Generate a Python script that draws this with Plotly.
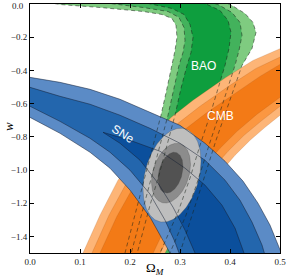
import numpy as np
import plotly.graph_objects as go

# ---------------- data (Omega_M, w) ----------------
# SNe contour boundaries (3 = outer 99.7%, 2 = 95%, 1 = 68%)
sne_u3_om = [-0.01, 0.0, 0.06, 0.12, 0.18, 0.24, 0.30, 0.35, 0.39, 0.426, 0.456, 0.48, 0.50, 0.51]
sne_u3_w = [-0.436, -0.442, -0.472, -0.514, -0.574, -0.652, -0.731, -0.839, -0.947, -1.067, -1.200, -1.332, -1.470, -1.554]
sne_u2_om = [-0.01, 0.0, 0.06, 0.12, 0.18, 0.24, 0.30, 0.35, 0.39, 0.42, 0.444, 0.464, 0.474]
sne_u2_w = [-0.496, -0.502, -0.556, -0.604, -0.670, -0.749, -0.839, -0.941, -1.061, -1.182, -1.314, -1.452, -1.554]
sne_u1_om = [0.146, 0.20, 0.26, 0.31, 0.35, 0.384, 0.41, 0.428, 0.432]
sne_u1_w = [-0.773, -0.821, -0.887, -0.989, -1.091, -1.212, -1.350, -1.500, -1.554]
sne_l1_om = [0.146, 0.18, 0.22, 0.256, 0.286, 0.31, 0.33, 0.334]
sne_l1_w = [-0.773, -0.839, -0.941, -1.079, -1.224, -1.362, -1.500, -1.554]
sne_l2_om = [-0.01, 0.0, 0.06, 0.12, 0.16, 0.20, 0.24, 0.27, 0.29, 0.298, 0.302]
sne_l2_w = [-0.604, -0.616, -0.707, -0.809, -0.893, -1.001, -1.145, -1.302, -1.434, -1.500, -1.554]
sne_l3_om = [-0.01, 0.0, 0.06, 0.12, 0.16, 0.20, 0.24, 0.266, 0.28, 0.286]
sne_l3_w = [-0.664, -0.683, -0.779, -0.893, -0.989, -1.121, -1.284, -1.422, -1.500, -1.554]

# CMB contour boundaries (L = upper-left side, R = lower-right side)
cmb_l3_om = [0.10, 0.106, 0.14, 0.176, 0.22, 0.282, 0.326, 0.392, 0.446, 0.50, 0.524]
cmb_l3_w = [-1.554, -1.500, -1.272, -1.061, -0.890, -0.683, -0.580, -0.442, -0.340, -0.268, -0.238]
cmb_l2_om = [0.118, 0.124, 0.158, 0.194, 0.238, 0.296, 0.34, 0.40, 0.452, 0.50, 0.524]
cmb_l2_w = [-1.554, -1.500, -1.272, -1.073, -0.893, -0.719, -0.616, -0.490, -0.388, -0.316, -0.286]
cmb_l1_om = [0.134, 0.14, 0.174, 0.21, 0.254, 0.31, 0.352, 0.41, 0.46, 0.50, 0.524]
cmb_l1_w = [-1.554, -1.500, -1.278, -1.085, -0.911, -0.755, -0.658, -0.538, -0.436, -0.364, -0.334]
cmb_r1_om = [0.238, 0.246, 0.266, 0.292, 0.32, 0.35, 0.38, 0.414, 0.454, 0.50, 0.524]
cmb_r1_w = [-1.554, -1.500, -1.374, -1.224, -1.091, -0.971, -0.869, -0.767, -0.664, -0.562, -0.520]
cmb_r2_om = [0.252, 0.26, 0.28, 0.308, 0.336, 0.366, 0.396, 0.428, 0.464, 0.50, 0.524]
cmb_r2_w = [-1.554, -1.500, -1.380, -1.230, -1.103, -0.989, -0.887, -0.791, -0.701, -0.616, -0.574]
cmb_r3_om = [0.262, 0.27, 0.29, 0.32, 0.35, 0.38, 0.41, 0.44, 0.47, 0.50, 0.524]
cmb_r3_w = [-1.554, -1.500, -1.392, -1.254, -1.121, -1.013, -0.911, -0.821, -0.743, -0.670, -0.628]

# BAO contour boundaries (Li = inner/left side, Ro = outer/right side)
bao_li3_om = [-0.02, 0.06, 0.14, 0.226, 0.264, 0.284, 0.292, 0.294, 0.29, 0.284, 0.274, 0.262, 0.246, 0.23, 0.214, 0.20, 0.19, 0.184]
bao_li3_w = [0.039, -0.003, -0.021, -0.045, -0.063, -0.087, -0.129, -0.201, -0.280, -0.370, -0.508, -0.670, -0.851, -1.031, -1.212, -1.374, -1.500, -1.573]
bao_li2_om = [0.08, 0.16, 0.226, 0.276, 0.298, 0.308, 0.31, 0.306, 0.298, 0.288, 0.276, 0.26, 0.244, 0.228, 0.214, 0.202, 0.196]
bao_li2_w = [0.039, 0.003, -0.021, -0.045, -0.081, -0.141, -0.219, -0.292, -0.370, -0.508, -0.670, -0.851, -1.031, -1.212, -1.374, -1.500, -1.573]
bao_li1_om = [0.18, 0.24, 0.284, 0.308, 0.32, 0.326, 0.322, 0.314, 0.302, 0.29, 0.274, 0.258, 0.24, 0.226, 0.214, 0.208]
bao_li1_w = [0.039, 0.003, -0.027, -0.063, -0.123, -0.201, -0.292, -0.370, -0.508, -0.670, -0.851, -1.031, -1.212, -1.374, -1.500, -1.573]
bao_ro1_om = [0.30, 0.35, 0.38, 0.396, 0.402, 0.398, 0.39, 0.376, 0.36, 0.34, 0.32, 0.296, 0.272, 0.26, 0.254]
bao_ro1_w = [0.039, 0.003, -0.039, -0.099, -0.171, -0.268, -0.370, -0.508, -0.670, -0.851, -1.049, -1.254, -1.422, -1.500, -1.573]
bao_ro2_om = [0.33, 0.376, 0.404, 0.42, 0.424, 0.418, 0.41, 0.396, 0.378, 0.358, 0.336, 0.312, 0.29, 0.28, 0.274]
bao_ro2_w = [0.039, -0.003, -0.051, -0.111, -0.189, -0.280, -0.370, -0.508, -0.670, -0.851, -1.061, -1.272, -1.434, -1.500, -1.573]
bao_ro3_om = [0.37, 0.404, 0.43, 0.446, 0.452, 0.444, 0.424, 0.41, 0.392, 0.372, 0.35, 0.326, 0.306, 0.298, 0.292]
bao_ro3_w = [0.039, -0.009, -0.057, -0.111, -0.171, -0.268, -0.370, -0.490, -0.640, -0.821, -1.031, -1.254, -1.434, -1.500, -1.573]

# Combined constraint ellipses: centre, half-extent in Omega_M, half-extent in w, correlation
comb_center_om = [0.284, 0.282, 0.281]
comb_center_w = [-1.031, -1.019, -1.016]
comb_half_om = [0.058, 0.039, 0.025]
comb_half_w = [0.283, 0.180, 0.123]
comb_rho = [0.3, 0.3, 0.3]

x_ticks = [0.0, 0.1, 0.2, 0.3, 0.4, 0.5]
x_tick_labels = ["0.0", "0.1", "0.2", "0.3", "0.4", "0.5"]
y_ticks = [-1.4, -1.2, -1.0, -0.8, -0.6, -0.4, -0.2, 0.0]
y_tick_labels = ["\u22121.4", "\u22121.2", "\u22121.0", "\u22120.8", "\u22120.6", "\u22120.4", "\u22120.2", "0.0"]

# ---------------- styles ----------------
BAO_COLORS = ["#7fcb80", "#43b25c", "#0e9e3e"]
CMB_COLORS = ["#fdb577", "#fb9741", "#f37a16"]
SNE_COLORS = ["#5b8bc6", "#2366ad", "#0b4f9c"]
GRAY_COLORS = ["#bebebe", "#8c8c8c", "#525252"]

fig = go.Figure()


def band(a_om, a_w, b_om, b_w, color, line_color, lw=0.5):
    xs = list(a_om) + list(b_om)[::-1]
    ys = list(a_w) + list(b_w)[::-1]
    fig.add_trace(go.Scatter(x=xs, y=ys, mode="lines", fill="toself", fillcolor=color,
                             line=dict(color=line_color, width=lw), hoverinfo="skip",
                             showlegend=False))


def curve(om, w, color, width, dash="solid"):
    fig.add_trace(go.Scatter(x=om, y=w, mode="lines", line=dict(color=color, width=width, dash=dash),
                             hoverinfo="skip", showlegend=False))


# BAO
band(bao_li3_om, bao_li3_w, bao_ro3_om, bao_ro3_w, BAO_COLORS[0], "rgba(0,0,0,0)", 0)
band(bao_li2_om, bao_li2_w, bao_ro2_om, bao_ro2_w, BAO_COLORS[1], "rgba(0,0,0,0)", 0)
band(bao_li1_om, bao_li1_w, bao_ro1_om, bao_ro1_w, BAO_COLORS[2], "rgba(0,0,0,0)", 0)

# CMB
band(cmb_l3_om, cmb_l3_w, cmb_r3_om, cmb_r3_w, CMB_COLORS[0], "rgba(160,80,20,0.5)", 0.4)
band(cmb_l2_om, cmb_l2_w, cmb_r2_om, cmb_r2_w, CMB_COLORS[1], "rgba(160,80,20,0.5)", 0.4)
band(cmb_l1_om, cmb_l1_w, cmb_r1_om, cmb_r1_w, CMB_COLORS[2], "rgba(160,80,20,0.5)", 0.4)

# SNe
band(sne_u3_om, sne_u3_w, sne_l3_om, sne_l3_w, SNE_COLORS[0], "rgba(0,0,0,0)", 0)
band(sne_u2_om, sne_u2_w, sne_l2_om, sne_l2_w, SNE_COLORS[1], "rgba(0,0,0,0)", 0)
band(sne_u1_om, sne_u1_w, sne_l1_om, sne_l1_w, SNE_COLORS[2], "rgba(0,0,0,0)", 0)

# Combined ellipses
t = np.linspace(0, 2 * np.pi, 200)
for i in range(3):
    r = comb_rho[i]
    ex = comb_center_om[i] + comb_half_om[i] * np.cos(t)
    ey = comb_center_w[i] + comb_half_w[i] * (r * np.cos(t) + np.sqrt(1 - r * r) * np.sin(t))
    fig.add_trace(go.Scatter(x=ex, y=ey, mode="lines", fill="toself", fillcolor=GRAY_COLORS[i],
                             line=dict(color="rgba(60,60,60,0.6)", width=0.4), hoverinfo="skip",
                             showlegend=False))

# SNe contour lines on top
for om, w in [(sne_u3_om, sne_u3_w), (sne_u2_om, sne_u2_w), (sne_u1_om, sne_u1_w),
              (sne_l1_om, sne_l1_w), (sne_l2_om, sne_l2_w), (sne_l3_om, sne_l3_w)]:
    curve(om, w, "rgba(20,30,50,0.85)", 0.6)

# BAO dashed contour lines on top
for om, w in [(bao_li3_om, bao_li3_w), (bao_li2_om, bao_li2_w), (bao_li1_om, bao_li1_w),
              (bao_ro1_om, bao_ro1_w), (bao_ro2_om, bao_ro2_w), (bao_ro3_om, bao_ro3_w)]:
    curve(om, w, "rgba(25,35,25,0.75)", 0.7, dash="4px,3px")

# Labels
lab_font = dict(family="Liberation Sans, Arial, sans-serif", size=12, color="white")
fig.add_annotation(x=0.186, y=-0.785, text="SNe", showarrow=False, textangle=32, font=lab_font)
fig.add_annotation(x=0.346, y=-0.376, text="BAO", showarrow=False, font=lab_font)
fig.add_annotation(x=0.38, y=-0.676, text="CMB", showarrow=False, font=lab_font)

ax_font = dict(family="Liberation Serif, DejaVu Serif, serif", size=13, color="black")
fig.add_annotation(xref="paper", yref="paper", x=-0.088, y=0.506, text="<i>w</i>",
                   showarrow=False, textangle=-90, font=ax_font, xanchor="center", yanchor="middle")
fig.add_annotation(xref="paper", yref="paper", x=0.5, y=-0.062, text="\u03a9<sub><i>M</i></sub>",
                   showarrow=False, font=ax_font, xanchor="center", yanchor="middle")

tick_font = dict(family="Liberation Serif, DejaVu Serif, serif", size=9, color="#222")
# top y tick label (at the very edge of the figure) drawn as an annotation so it is not hidden
y_tick_text_shown = [s if v != 0.0 else " " for v, s in zip(y_ticks, y_tick_labels)]
fig.add_annotation(xref="paper", yref="y", x=-0.02, y=y_ticks[-1], text=y_tick_labels[-1],
                   showarrow=False, xanchor="right", yanchor="middle", font=tick_font,
                   borderpad=0, yshift=-1.5)

common = dict(ticks="inside", ticklen=4, tickwidth=0.8, tickcolor="black", mirror="ticks",
              showline=True, linecolor="black", linewidth=1, showgrid=False, zeroline=False,
              tickfont=tick_font, ticklabeloverflow="allow")
fig.update_xaxes(range=[0.0, 0.5], tickvals=x_ticks, ticktext=x_tick_labels, **common)
fig.update_yaxes(range=[-1.5, 0.0], tickvals=y_ticks, ticktext=y_tick_text_shown, **common)

fig.update_layout(width=286, height=277, margin=dict(l=30, r=6, t=4, b=24, autoexpand=False),
                  paper_bgcolor="white", plot_bgcolor="white", showlegend=False)

fig.write_html("out.html", config={"displayModeBar": False},
               post_script="document.body.style.margin='0px';document.body.style.overflow='hidden';")
